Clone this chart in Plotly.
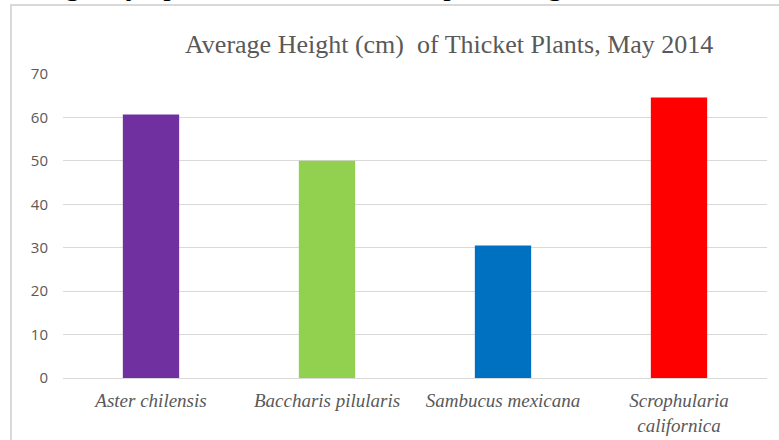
import plotly.graph_objects as go

# Thicket survey, May 2014
species = ["Aster chilensis", "Baccharis pilularis", "Sambucus mexicana",
           "Scrophularia<br>californica"]
avg_height_cm = [60.7, 50.0, 30.5, 64.6]
bar_colors = ["#7030A0", "#92D050", "#0070C0", "#FF0000"]
y_ticks = [0, 10, 20, 30, 40, 50, 60, 70]

W, H = 779, 440
L, R, T, B = 63, 12, 74, 62
pw, ph = W - L - R, H - T - B

SERIF = "Liberation Serif"


def px_x(x):
    return (x - L) / pw


def px_y(y):
    return (H - B - y) / ph


fig = go.Figure(
    go.Bar(
        x=species,
        y=avg_height_cm,
        marker=dict(color=bar_colors, line=dict(width=0)),
        hoverinfo="x+y",
    )
)

fig.update_layout(
    width=W,
    height=H,
    margin=dict(l=L, r=R, t=T, b=B, autoexpand=False),
    paper_bgcolor="white",
    plot_bgcolor="white",
    bargap=0.68,
    showlegend=False,
    xaxis=dict(
        automargin=False,
        showgrid=False,
        showline=True,
        linecolor="#d9d9d9",
        linewidth=1,
        ticks="",
        tickfont=dict(family=SERIF, size=19, color="#595959", style="italic"),
        ticklabelstandoff=5,
    ),
    yaxis=dict(
        automargin=False,
        range=[0, 70],
        tickvals=y_ticks,
        showgrid=True,
        gridcolor="#d9d9d9",
        gridwidth=1,
        zeroline=False,
        showline=False,
        ticks="",
        tickfont=dict(family="Open Sans", size=15, color="#595959"),
        ticklabelstandoff=14,
    ),
    shapes=[
        # chart frame
        dict(type="rect", xref="paper", yref="paper",
             x0=px_x(11), x1=px_x(790), y0=px_y(455), y1=px_y(5),
             line=dict(color="#d9d9d9", width=2), fillcolor="rgba(0,0,0,0)",
             layer="below"),
    ],
    annotations=[
        dict(text="Average Height (cm)  of Thicket Plants, May 2014",
             xref="paper", yref="paper", x=px_x(449), y=px_y(44),
             xanchor="center", yanchor="middle", showarrow=False,
             font=dict(family=SERIF, size=26, color="#595959")),
        # line of body text above the chart box
        dict(text="Average dry upland shrubs and other plant height in the thicket",
             xref="paper", yref="paper", x=px_x(-8), y=px_y(3),
             xanchor="left", yanchor="bottom", showarrow=False,
             font=dict(family=SERIF, size=30, color="black")),
    ],
)

fig.write_html("out.html")
